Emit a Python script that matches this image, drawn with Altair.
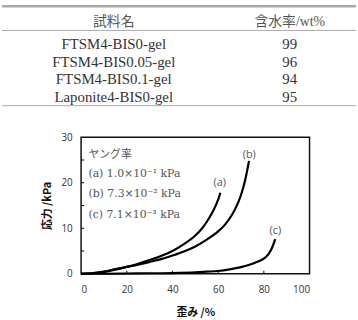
import altair as alt
import pandas as pd

# ---------------- table data ----------------
table_header = ["試料名", "含水率/wt%"]
sample_names = ["FTSM4-BIS0-gel", "FTSM4-BIS0.05-gel", "FTSM4-BIS0.1-gel", "Laponite4-BIS0-gel"]
water_content = [99, 96, 94, 95]

# ---------------- stress-strain curves ----------------
strain_a = [0, 5, 10, 15, 20, 25, 30, 35, 40, 45, 50, 53, 56, 58, 60, 61]
stress_a = [0, 0.1, 0.4, 0.9, 1.5, 2.2, 3.0, 3.9, 5.0, 6.5, 8.4, 10.0, 12.2, 14.0, 16.3, 17.8]

strain_b = [0, 5, 10, 15, 20, 25, 30, 35, 40, 45, 50, 55, 60, 63, 66, 68, 70, 72, 73.5]
stress_b = [0, 0.15, 0.5, 1.0, 1.5, 2.0, 2.6, 3.2, 4.0, 4.9, 6.0, 7.5, 9.3, 10.8, 12.9, 14.8, 17.3, 21.0, 24.8]

strain_c = [0, 10, 20, 30, 40, 50, 55, 60, 65, 70, 75, 78, 80, 82, 83.5, 85]
stress_c = [0, 0.0, 0.05, 0.1, 0.15, 0.3, 0.45, 0.6, 0.95, 1.45, 2.2, 2.8, 3.3, 4.3, 5.6, 7.6]

curve_labels = ["(a)", "(b)", "(c)"]
curve_label_x = [60.7, 73.6, 85.0]
curve_label_y = [19.9, 26.2, 9.4]

legend_lines = ["ヤング率", "(a) 1.0×10⁻¹ kPa", "(b) 7.3×10⁻² kPa", "(c) 7.1×10⁻³ kPa"]
legend_x = [3.2, 3.2, 3.2, 3.2]
legend_y = [26.2, 21.9, 17.5, 12.8]

x_ticks = [0, 20, 40, 60, 80, 100]
y_ticks = [0, 5, 10, 15, 20, 25, 30]
x_inner_ticks = [20, 40, 60, 80]
y_inner_ticks = [5, 10, 15, 20, 25]

SERIF = "Liberation Serif, Noto Sans CJK JP"
SANS = "Open Sans, Noto Sans CJK JP"
CJK = "Noto Sans CJK JP"

# ---------------- table chart ----------------
cols = ["name", "water"]
body = pd.DataFrame({
    "row": [1, 2, 3, 4] * 2,
    "col": ["name"] * 4 + ["water"] * 4,
    "text": sample_names + [str(v) for v in water_content],
})
head = pd.DataFrame({"row": [0, 0], "col": cols, "text": table_header})
lines = pd.DataFrame({"row": [-1.17, 0.21, 4.51], "w": [2.5, 1.0, 1.0]})

xcol = alt.X("col:N", scale=alt.Scale(domain=cols, range=[113, 291], padding=0), axis=None)
yscale = alt.Scale(domain=[-1.43, 4.62], reverse=True, nice=False, zero=False)

t_body = alt.Chart(body).mark_text(font=SERIF, fontSize=15, color="#333333").encode(
    x=xcol, y=alt.Y("row:Q", scale=yscale, axis=None), text="text:N"
)
t_head = alt.Chart(head).mark_text(font=SERIF, fontSize=14, color="#555555", dy=-5).encode(
    x=xcol, y=alt.Y("row:Q", scale=yscale, axis=None), text="text:N"
)
t_lines = alt.Chart(lines).mark_rule(color="#aaaaaa").encode(
    y=alt.Y("row:Q", scale=yscale, axis=None),
    x=alt.value(0), x2=alt.value("width"),
    strokeWidth=alt.StrokeWidth("w:Q", scale=None),
)
table = alt.layer(t_lines, t_head, t_body).properties(
    width=358, height=107, view=alt.ViewBackground(stroke=None)
)

# ---------------- plot chart ----------------
curves = pd.concat([
    pd.DataFrame({"strain": strain_a, "stress": stress_a, "s": "a"}),
    pd.DataFrame({"strain": strain_b, "stress": stress_b, "s": "b"}),
    pd.DataFrame({"strain": strain_c, "stress": stress_c, "s": "c"}),
])
xs = alt.Scale(domain=[0, 100], nice=False)
ys = alt.Scale(domain=[0, 30], nice=False)

line = alt.Chart(curves).mark_line(color="black", strokeWidth=2.2, interpolate="monotone").encode(
    x=alt.X("strain:Q", scale=xs, axis=alt.Axis(
        values=x_ticks, grid=False, ticks=False, domain=False, labelPadding=11,
        labelFont=SANS, labelFontSize=10, labelColor="#333333",
        title="歪み /%", titleFont=CJK, titleFontSize=11, titleFontWeight="bold",
        titlePadding=12, titleColor="#111111")),
    y=alt.Y("stress:Q", scale=ys, axis=alt.Axis(
        values=y_ticks, grid=False, ticks=False, domain=False, labelPadding=9,
        labelFont=SANS, labelFontSize=10, labelColor="#333333",
        title="応力 /kPa", titleFont=CJK, titleFontSize=11, titleFontWeight="bold",
        titlePadding=9, titleColor="#111111")),
    detail="s:N",
    order="strain:Q",
)

lab = alt.Chart(pd.DataFrame({"t": curve_labels, "x": curve_label_x, "y": curve_label_y})).mark_text(
    font=SANS, fontSize=11, color="#555555"
).encode(x=alt.X("x:Q", scale=xs), y=alt.Y("y:Q", scale=ys), text="t:N")

leg = alt.Chart(pd.DataFrame({"t": legend_lines, "x": legend_x, "y": legend_y})).mark_text(
    font="DejaVu Serif, Noto Sans CJK JP", fontSize=11, color="#555555", align="left"
).encode(x=alt.X("x:Q", scale=xs), y=alt.Y("y:Q", scale=ys), text="t:N")

xt = alt.Chart(pd.DataFrame({"x": x_inner_ticks})).mark_rule(color="black", strokeWidth=1).encode(
    x=alt.X("x:Q", scale=xs), y=alt.datum(0), y2=alt.datum(0.65)
)
yt = alt.Chart(pd.DataFrame({"y": y_inner_ticks})).mark_rule(color="black", strokeWidth=1).encode(
    y=alt.Y("y:Q", scale=ys), x=alt.datum(0), x2=alt.datum(1.3)
)

plot = alt.layer(line, xt, yt, lab, leg).properties(
    width=231, height=138,
    view=alt.ViewBackground(stroke="#111111", strokeWidth=1.5),
)

# empty spacer that shifts the plot to the right
spacer = alt.Chart(pd.DataFrame({"v": [0]})).mark_text(text="").encode(
    x=alt.value(0), y=alt.value(0)
).properties(width=38, height=1, view=alt.ViewBackground(stroke=None))

row = alt.hconcat(spacer, plot, spacing=0)

chart = alt.vconcat(table, row, spacing=24).properties(
    padding=0, background="white"
)

chart.save("out.html", embed_options={"renderer": "svg", "actions": False})
